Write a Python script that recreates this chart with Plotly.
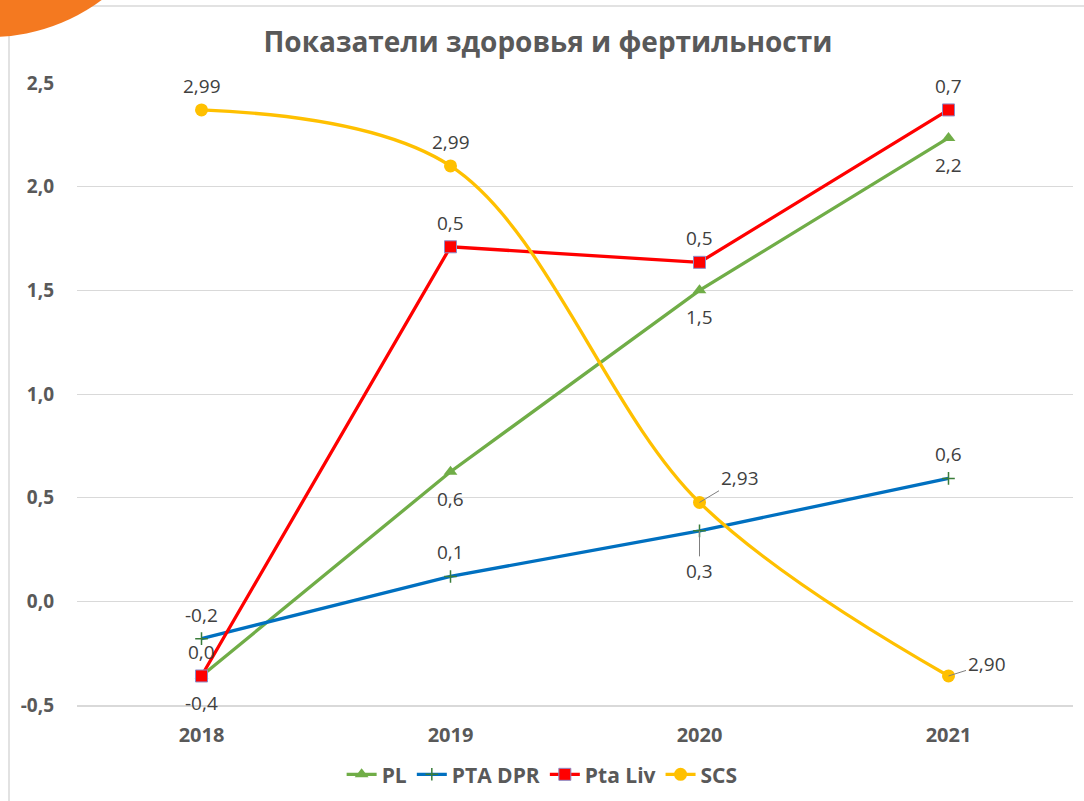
import plotly.graph_objects as go

years = ["2018", "2019", "2020", "2021"]
pl = [-0.36, 0.625, 1.50, 2.235]
pta_dpr = [-0.18, 0.12, 0.34, 0.593]
pta_liv = [-0.36, 1.71, 1.635, 2.37]
scs = [2.37, 2.10, 0.477, -0.36]

pl_labels = ["-0,4", "0,6", "1,5", "2,2"]
dpr_labels = ["-0,2", "0,1", "0,3", "0,6"]
liv_labels = ["0,0", "0,5", "0,5", "0,7"]
scs_labels = ["2,99", "2,99", "2,93", "2,90"]

yticks = [-0.5, 0.0, 0.5, 1.0, 1.5, 2.0, 2.5]
ytick_text = ["-0,5", "0,0", "0,5", "1,0", "1,5", "2,0", "2,5"]

FONT = "Open Sans"
GRAY = "#595959"
LBL = "#404040"

fig = go.Figure()
fig.add_trace(go.Scatter(x=years, y=pl, name="PL", mode="lines+markers",
                         line=dict(color="#70AD47", width=3.3),
                         marker=dict(symbol="triangle-up", size=12, color="#70AD47")))
fig.add_trace(go.Scatter(x=years, y=pta_dpr, name="PTA DPR", mode="lines+markers",
                         line=dict(color="#0070C0", width=3.3),
                         marker=dict(symbol="cross-thin", size=9, color="#3A7D3A",
                                     line=dict(color="#3A7D3A", width=1.5))))
fig.add_trace(go.Scatter(x=years, y=pta_liv, name="Pta Liv", mode="lines+markers",
                         line=dict(color="#FF0000", width=3.3),
                         marker=dict(symbol="square", size=12, color="#FF0000",
                                     line=dict(color="#8C8CC8", width=1))))
fig.add_trace(go.Scatter(x=years, y=scs, name="SCS", mode="lines+markers",
                         line=dict(color="#FFC000", width=3.3, shape="spline", smoothing=1.0),
                         marker=dict(symbol="circle", size=13, color="#FFC000")))

ann = []
def lab(i, y, t, yshift=0, arrow=False, ax=0, ay=0):
    d = dict(x=i, y=y, text=t, xref="x", yref="y",
             font=dict(family=FONT, size=19, color=LBL))
    if arrow:
        d.update(showarrow=True, ax=ax, ay=ay, arrowhead=0, arrowwidth=1,
                 arrowcolor="#7F7F7F")
    else:
        d.update(showarrow=False, yshift=yshift)
    ann.append(d)

for i in range(len(years)):
    lab(i, pl[i], pl_labels[i], yshift=-27)
    if i == 2:
        lab(i, pta_dpr[i], dpr_labels[i], arrow=True, ax=0, ay=40)
    else:
        lab(i, pta_dpr[i], dpr_labels[i], yshift=24)
    lab(i, pta_liv[i], liv_labels[i], yshift=24)
    if i == 2:
        lab(i, scs[i], scs_labels[i], arrow=True, ax=40, ay=-24)
    elif i == 3:
        lab(i, scs[i], scs_labels[i], arrow=True, ax=38, ay=-12)
    else:
        lab(i, scs[i], scs_labels[i], yshift=24)

fig.update_layout(
    width=1084, height=801,
    margin=dict(l=77, r=11, t=83, b=96, autoexpand=False),
    paper_bgcolor="white", plot_bgcolor="white",
    font=dict(family=FONT, color=GRAY),
    title=dict(text="<b>Показатели здоровья и фертильности</b>",
               x=0.5055, xref="container", xanchor="center",
               y=1 - 42 / 801, yref="container", yanchor="middle",
               font=dict(family=FONT, size=28, color=GRAY)),
    showlegend=True,
    legend=dict(orientation="h", x=0.467, xanchor="center", y=-0.112, yanchor="middle",
                font=dict(family=FONT, size=21, color=GRAY, weight="bold"),
                itemwidth=30, bgcolor="rgba(0,0,0,0)"),
    annotations=ann,
    shapes=[
        dict(type="rect", xref="paper", yref="paper",
             x0=(9 - 77) / 996, x1=(1090 - 77) / 996,
             y0=(705 - 805) / 622, y1=(705 - 6) / 622,
             line=dict(color="#D9D9D9", width=1.5), fillcolor="rgba(0,0,0,0)", layer="below"),
        dict(type="circle", xref="paper", yref="paper",
             x0=(-197 - 77) / 996, x1=(177 - 77) / 996,
             y0=(705 - 37) / 622, y1=(705 + 337) / 622,
             line=dict(width=0), fillcolor="#F47920", layer="above"),
    ],
)
fig.update_xaxes(type="category", showgrid=False, showline=True, linecolor="#D9D9D9",
                 linewidth=1.5, ticks="", ticklabelstandoff=11,
                 tickfont=dict(family=FONT, size=20, color=GRAY, weight="bold"),
                 range=[-0.5, 3.5], fixedrange=True)
fig.update_yaxes(range=[-0.5, 2.5], tickvals=yticks, ticktext=ytick_text,
                 showgrid=True, gridcolor="#D9D9D9", gridwidth=1, zeroline=False,
                 showline=False, ticks="", ticklabelstandoff=22,
                 tickfont=dict(family=FONT, size=19, color=GRAY, weight="bold"))

fig.write_html("out.html", config={"displayModeBar": False},
               post_script="document.body.style.margin='0';")
